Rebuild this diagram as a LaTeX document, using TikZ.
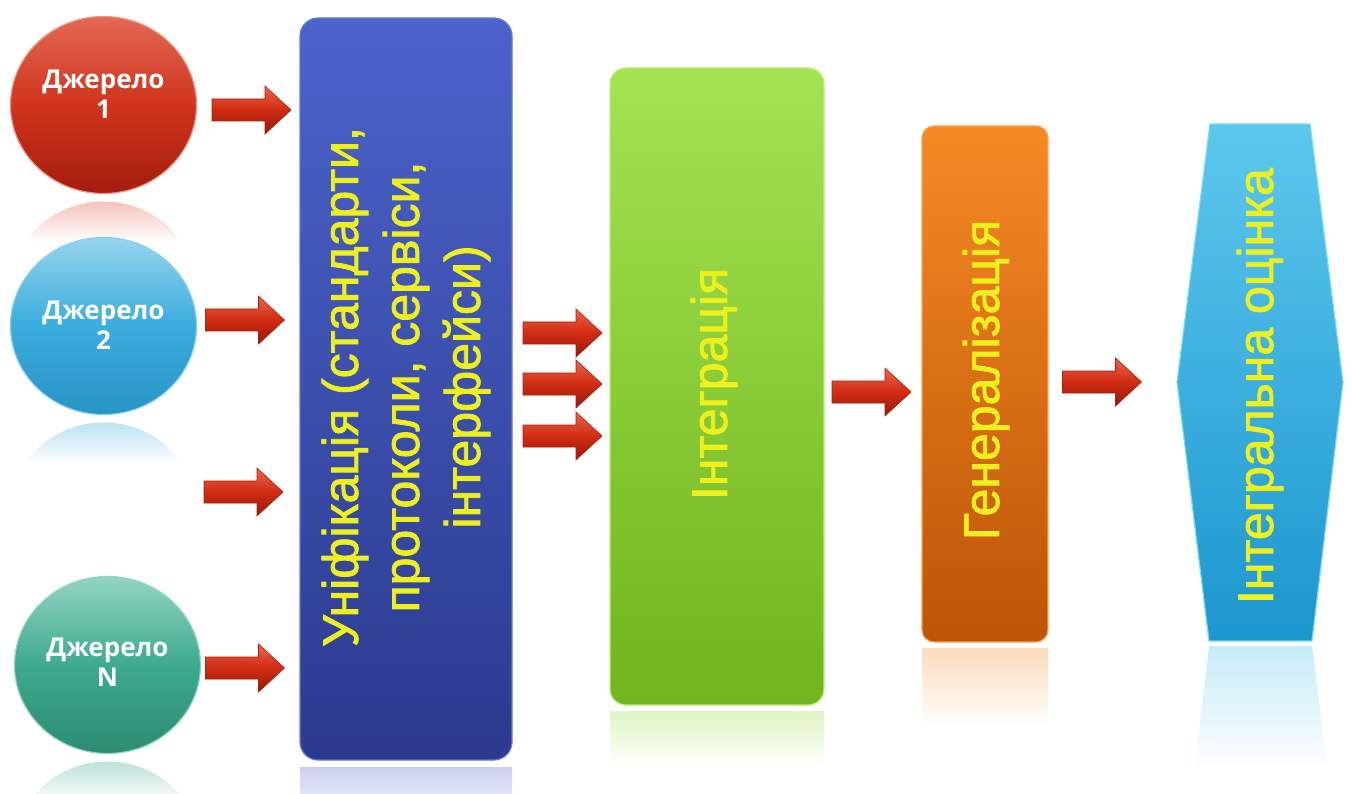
\documentclass[tikz,border=0pt]{standalone}
\usepackage{fontspec}
\setmainfont{Liberation Sans}
\newfontfamily\yfont{Liberation Sans}[FakeBold=1.6]
\newfontfamily\cfont{Open Sans}
\usetikzlibrary{shapes.geometric}
\definecolor{txty}{RGB}{238,240,30}
\definecolor{arrT}{RGB}{236,100,76}
\definecolor{arrM}{RGB}{208,44,18}
\definecolor{arrB}{RGB}{150,24,8}
\definecolor{arrD}{RGB}{176,30,12}
\definecolor{rT}{RGB}{228,104,84}
\definecolor{rM}{RGB}{208,52,28}
\definecolor{rB}{RGB}{164,28,14}
\definecolor{rD}{RGB}{236,150,132}
\definecolor{bT}{RGB}{150,212,238}
\definecolor{bM}{RGB}{58,172,220}
\definecolor{bB}{RGB}{40,148,196}
\definecolor{bD}{RGB}{130,208,240}
\definecolor{gT}{RGB}{146,212,194}
\definecolor{gM}{RGB}{62,170,142}
\definecolor{gB}{RGB}{44,140,114}
\definecolor{gD}{RGB}{140,214,196}
\definecolor{uT}{RGB}{76,99,203}
\definecolor{uB}{RGB}{43,58,142}
\definecolor{uD}{RGB}{98,122,222}
\definecolor{iT}{RGB}{164,227,82}
\definecolor{iB}{RGB}{112,180,30}
\definecolor{iD}{RGB}{186,240,120}
\definecolor{oT}{RGB}{245,138,36}
\definecolor{oB}{RGB}{188,84,6}
\definecolor{oD}{RGB}{248,164,84}
\definecolor{hT}{RGB}{92,200,238}
\definecolor{hB}{RGB}{28,150,206}
\definecolor{hD}{RGB}{122,216,248}
\begin{document}
\begin{tikzpicture}[x=1pt,y=-1pt,
  srcshape/.style={ellipse, minimum width=186pt, minimum height=177pt, inner sep=0pt, line width=1.2pt},
  srcred/.style={srcshape, top color=rT, bottom color=rB, middle color=rM, draw=rD},
  srcblue/.style={srcshape, top color=bT, bottom color=bB, middle color=bM, draw=bD},
  srcgreen/.style={srcshape, top color=gT, bottom color=gB, middle color=gM, draw=gD},
  ctext/.style={text=white, font=\cfont\bfseries\fontsize{26}{30}\selectfont, align=center, inner sep=0pt},
  stagebox/.style={rectangle, inner sep=0pt, line width=1.2pt},
  ytext/.style={text=txty, font=\yfont\fontsize{50}{61}\selectfont, rotate=90, align=center, inner sep=0pt},
  barrow/.pic={\shadedraw[top color=arrT, bottom color=arrB, middle color=arrM, draw=arrD, line width=0.6pt]
     (-39.5,-11) -- (13.5,-11) -- (13.5,-24) -- (39.5,0) -- (13.5,24) -- (13.5,11) -- (-39.5,11) -- cycle;}
]
\useasboundingbox[fill=white] (0,0) rectangle (1352,794);

% reflections
\begin{scope}
  \clip (103.5,290) ellipse [x radius=93, y radius=88.5];
  \shade[top color=rT!40!white, bottom color=white] (0,201) rectangle (210,242);
\end{scope}
\begin{scope}
  \clip (103.5,511) ellipse [x radius=93, y radius=88.5];
  \shade[top color=bM!35!white, bottom color=white] (0,422) rectangle (210,463);
\end{scope}
\begin{scope}
  \clip (107.5,850) ellipse [x radius=93, y radius=88.5];
  \shade[top color=gM!35!white, bottom color=white] (0,761) rectangle (215,802);
\end{scope}
\shade[top color=uT!30!white, bottom color=white] (300,767) rectangle (512,830);
\shade[top color=iT!35!white, bottom color=white] (610,711) rectangle (824,768);
\shade[top color=oT!30!white, bottom color=white] (922,648) rectangle (1048,728);
\shade[top color=hT!35!white, bottom color=white] (1209,646) -- (1312,646) -- (1328,772) -- (1194,772) -- cycle;

% sources
\node[srcred]   (s1) at (103.5,105) {};
\node[srcblue]  (s2) at (103.5,326) {};
\node[srcgreen] (sN) at (107.5,665) {};
\node[ctext] (t1) at (103.5,94)  {Джерело\\1};
\node[ctext] (t2) at (103.5,325) {Джерело\\2};
\node[ctext] (tN) at (107.5,662) {Джерело\\N};

% stages
\node[stagebox, minimum width=212pt, minimum height=742pt, rounded corners=18pt,
      top color=uT, bottom color=uB, draw=uD] (uni) at (406,389) {};
\node[ytext] (unitext) at (406,387) {Уніфікація (стандарти,\\протоколи, сервіси,\\інтерфейси)};

\node[stagebox, minimum width=214pt, minimum height=637pt, rounded corners=16pt,
      top color=iT, bottom color=iB, draw=iD] (integ) at (717,386.5) {};
\node[ytext] (integtext) at (714,384) {Інтеграція};

\node[stagebox, minimum width=126pt, minimum height=516pt, rounded corners=12pt,
      top color=oT, bottom color=oB, draw=oD] (gen) at (985,384) {};
\node[ytext] (gentext) at (986,380) {Генералізація};

\coordinate (h1) at (1210,124);
\coordinate (h2) at (1310,124);
\coordinate (h3) at (1343,382);
\coordinate (h4) at (1312,641);
\coordinate (h5) at (1209,641);
\coordinate (h6) at (1177,382);
\shadedraw[top color=hT, bottom color=hB, draw=hD, line width=1.2pt] (h1) -- (h2) -- (h3) -- (h4) -- (h5) -- (h6) -- cycle;
\node[ytext] (restext) at (1260,386) {Інтегральна оцінка};

% block arrows
\pic (a1) at (251.5,110) {barrow};
\pic (a2) at (245,320) {barrow};
\pic (a3) at (243.5,492) {barrow};
\pic (a4) at (245,668) {barrow};
\pic (a5) at (562.5,333) {barrow};
\pic (a6) at (562.5,384) {barrow};
\pic (a7) at (562.5,436) {barrow};
\pic (a8) at (871.5,392) {barrow};
\pic (a9) at (1102,382) {barrow};
\end{tikzpicture}
\end{document}
